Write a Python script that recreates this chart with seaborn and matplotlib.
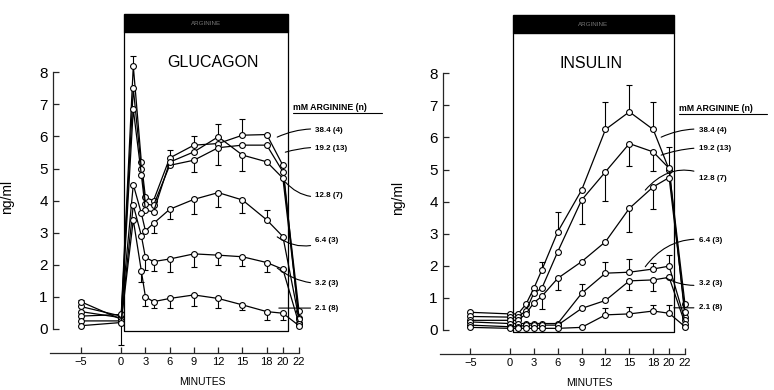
import matplotlib
matplotlib.use("Agg")
import matplotlib.pyplot as plt
import seaborn as sns
import pandas as pd
from matplotlib.patches import Rectangle

# arginine concentrations (mM) and number of experiments
CONC = ["38.4", "19.2", "12.8", "6.4", "3.2", "2.1"]
N_EXP = [4, 13, 7, 3, 3, 8]

# ---- glucagon (ng/ml) ----
GLU_T = [-5, 0, 1.5, 2.5, 3, 4, 6, 9, 12, 15, 18, 20, 22]
glu_384 = [0.7, 0.4, 8.2, 5.2, 4.1, 4.0, 5.33, 5.73, 5.78, 6.04, 6.06, 5.1, 0.2]
glu_192 = [0.54, 0.35, 7.5, 5.0, 3.9, 3.85, 5.1, 5.26, 5.65, 5.73, 5.73, 4.9, 0.55]
glu_128 = [0.85, 0.3, 6.85, 4.8, 3.7, 3.65, 5.2, 5.52, 5.99, 5.42, 5.21, 4.7, 0.35]
glu_64 = [0.4, 0.45, 4.5, 3.6, 3.06, 3.29, 3.73, 4.04, 4.25, 4.02, 3.4, 2.88, 0.3]
glu_32 = [0.25, 0.25, 3.86, 2.9, 2.23, 2.1, 2.18, 2.34, 2.3, 2.25, 2.07, 1.86, 0.15]
glu_21 = [0.1, 0.2, 3.4, 1.8, 1.0, 0.85, 0.95, 1.06, 0.95, 0.75, 0.54, 0.49, 0.1]
# SEM, signed: + drawn upward, - drawn downward
glu_err_384 = [0.2, 0, 0.3, 0, 0, 0, 0.25, 0.27, 0, 0.5, 0, 0, 0]
glu_err_192 = [0, 0, 0, 0, 0, 0, 0, -0.37, -0.55, 0, 0, 0, 0]
glu_err_128 = [0, 0, 0, 0, 0.2, 0.2, 0, 0, 0.4, -0.5, 0, 0, 0]
glu_err_64 = [0, 0, 0, 0, 0, -0.3, -0.3, -0.45, -0.45, -0.4, 0.3, 0, 0]
glu_err_32 = [0, -0.75, 0, 0, -0.4, -0.3, -0.4, -0.4, -0.3, -0.3, -0.28, 0, 0]
glu_err_21 = [0, 0, 0, -0.35, -0.3, -0.2, -0.3, -0.36, -0.3, -0.15, -0.26, -0.2, 0]

# ---- insulin (ng/ml) ----
INS_T = [-5, 0, 1, 2, 3, 4, 6, 9, 12, 15, 18, 20, 22]
ins_384 = [0.55, 0.5, 0.5, 0.8, 1.3, 1.87, 3.06, 4.36, 6.25, 6.8, 6.25, 5.0, 0.8]
ins_192 = [0.42, 0.4, 0.4, 0.6, 1.15, 1.3, 2.44, 4.05, 4.93, 5.81, 5.55, 5.04, 0.4]
ins_128 = [0.3, 0.3, 0.3, 0.5, 0.85, 1.05, 1.61, 2.13, 2.75, 3.79, 4.46, 4.75, 0.55]
ins_64 = [0.25, 0.2, 0.2, 0.2, 0.2, 0.2, 0.2, 1.14, 1.77, 1.8, 1.9, 1.99, 0.3]
ins_32 = [0.15, 0.1, 0.1, 0.15, 0.15, 0.15, 0.15, 0.67, 0.92, 1.53, 1.56, 1.64, 0.2]
ins_21 = [0.08, 0.05, 0.05, 0.05, 0.05, 0.05, 0.05, 0.08, 0.47, 0.5, 0.59, 0.52, 0.1]
ins_err_384 = [0, 0, 0, 0, 0, 0.26, 0.62, 0, 0.85, 0.85, 0.85, 0, 0]
ins_err_192 = [0, 0, 0, 0, 0, 0, 0, -0.75, -0.9, -0.7, -0.6, 0.65, 0]
ins_err_128 = [0, 0, 0, 0, 0, -0.4, -0.35, 0, 0, -0.75, -0.7, 0, 0]
ins_err_64 = [0, 0, 0, 0, 0, 0, 0, 0.3, 0.35, 0.4, 0.2, 0.35, 0]
ins_err_32 = [0, 0, 0, 0, 0, 0, 0, 0, 0, -0.3, -0.35, 0, 0]
ins_err_21 = [0, 0, 0, 0, 0, 0, 0, 0, 0.2, 0.2, 0.2, 0.25, 0]

X_TICKS = [-5, 0, 3, 6, 9, 12, 15, 18, 20, 22]
Y_TICKS = [0, 1, 2, 3, 4, 5, 6, 7, 8]


def to_long(t, series, errs):
    rows = []
    for conc, vals, err in zip(CONC, series, errs):
        for ti, v, e in zip(t, vals, err):
            rows.append({"minutes": ti, "value": v, "err": e, "conc": conc})
    return pd.DataFrame(rows)


def draw_panel(ax, df, title, title_x, label_x, label_y, leaders):
    # one-sided error bars
    eb = df[df["err"] != 0]
    lo = (-eb["err"]).clip(lower=0)
    hi = eb["err"].clip(lower=0)
    ax.errorbar(eb["minutes"], eb["value"], yerr=[lo, hi], fmt="none",
                ecolor="black", elinewidth=0.8, capsize=2, capthick=0.8)

    sns.lineplot(data=df, x="minutes", y="value", hue="conc",
                 palette={c: "black" for c in CONC}, estimator=None,
                 sort=False, legend=False, ax=ax, marker="o", ms=4.2,
                 mfc="white", mec="black", mew=0.8, lw=0.9)

    # arginine infusion period
    ax.add_patch(Rectangle((0.4, 9.25), 20.2, 0.57, color="black",
                           clip_on=False, zorder=3))
    ax.text(10.5, 9.53, "ARGININE", color="#777777", fontsize=4.5,
            ha="center", va="center", zorder=4)
    ax.plot([0.4, 0.4, 20.6, 20.6], [9.25, -0.05, -0.05, 9.25],
            color="black", lw=0.9, clip_on=False)

    ax.text(title_x, 8.3, title, fontsize=11.5, ha="center", va="center")

    # legend block
    ax.text(21.2, 6.9, "mM ARGININE (n)", fontsize=6.3, fontweight="bold",
            ha="left", va="center")
    ax.plot([21.2, 32.3], [6.72, 6.72], color="black", lw=0.8,
            clip_on=False)
    for conc, n, y, (px, py, rad) in zip(CONC, N_EXP, label_y, leaders):
        ax.annotate(f"{conc} ({n})", xy=(px, py), xytext=(label_x, y),
                    fontsize=5.8, fontweight="bold", ha="left", va="center",
                    arrowprops=dict(arrowstyle="-", lw=0.8, color="black",
                                    shrinkA=1, shrinkB=0,
                                    connectionstyle=f"arc3,rad={rad}"))

    ax.set_xlim(-8.8, 33)
    ax.set_ylim(-0.75, 9.85)
    sns.despine(ax=ax)
    ax.spines["left"].set_position(("data", -8.4))
    ax.spines["left"].set_bounds(0, 8)
    ax.spines["bottom"].set_bounds(-8.8, 22)
    ax.set_xticks(X_TICKS)
    ax.set_yticks(Y_TICKS)
    ax.tick_params(axis="both", direction="in", length=4, width=0.9,
                   labelcolor="black")
    ax.tick_params(axis="y", labelsize=11, pad=4)
    ax.tick_params(axis="x", labelsize=8, pad=3)
    ax.set_xlabel("MINUTES", fontsize=7.5)
    ax.set_ylabel("ng/ml", fontsize=10)
    ax.xaxis.set_label_coords(0.45, -0.07)
    ax.yaxis.set_label_coords(-0.105, 0.46)


sns.set_style("ticks")
plt.rcParams["font.family"] = ["Liberation Sans", "DejaVu Sans"]
plt.rcParams["axes.linewidth"] = 0.9
plt.rcParams["text.color"] = "black"
plt.rcParams["axes.labelcolor"] = "black"

fig = plt.figure(figsize=(7.74, 3.9), dpi=100)
ax1 = fig.add_axes([0.0646, 0.0949, 0.4367, 0.8718])
ax2 = fig.add_axes([0.5685, 0.0923, 0.4296, 0.8718])

glu = to_long(GLU_T, [glu_384, glu_192, glu_128, glu_64, glu_32, glu_21],
              [glu_err_384, glu_err_192, glu_err_128, glu_err_64,
               glu_err_32, glu_err_21])
ins = to_long(INS_T, [ins_384, ins_192, ins_128, ins_64, ins_32, ins_21],
              [ins_err_384, ins_err_192, ins_err_128, ins_err_64,
               ins_err_32, ins_err_21])

draw_panel(ax1, glu, "GLUCAGON", 11.3, 24.0,
           [6.2, 5.64, 4.17, 2.77, 1.43, 0.65],
           [(19.3, 5.98, 0.15), (20.3, 5.51, 0.1), (20.3, 4.58, -0.3),
            (19.3, 2.87, -0.3), (19.3, 1.9, -0.2), (19.5, 0.65, 0.0)])
draw_panel(ax2, ins, "INSULIN", 10.2, 23.7,
           [6.23, 5.67, 4.73, 2.8, 1.46, 0.69],
           [(19.0, 6.01, 0.15), (19.0, 5.45, 0.1), (17.0, 4.36, 0.4),
            (17.0, 1.97, 0.3), (19.6, 1.62, -0.2), (20.6, 0.69, 0.0)])

fig.savefig("out.png", dpi=100)
